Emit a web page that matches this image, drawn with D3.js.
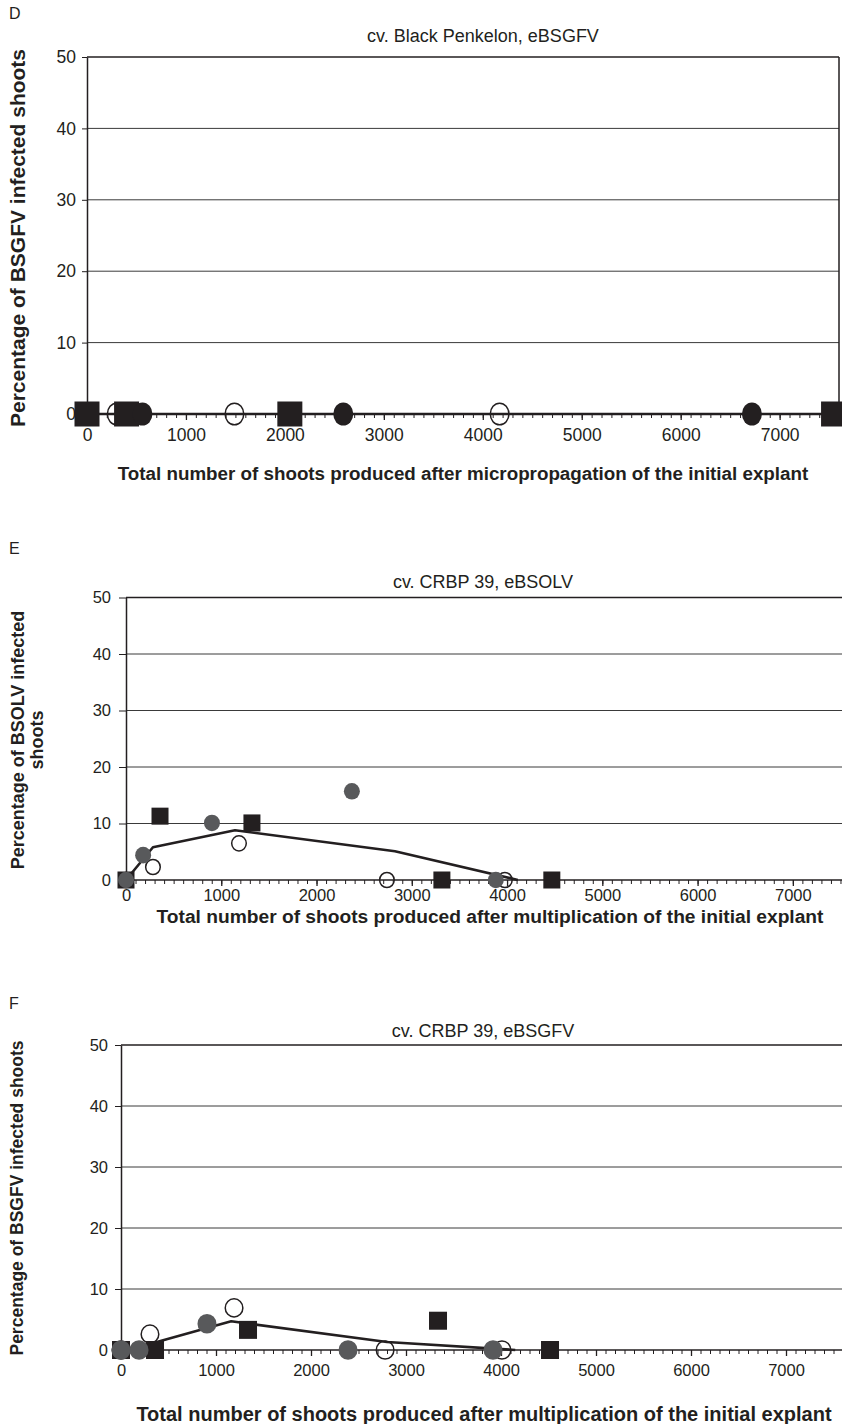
<!DOCTYPE html>
<html><head><meta charset="utf-8">
<script src="https://cdn.jsdelivr.net/npm/d3@7/dist/d3.min.js"></script>
<style>
body{margin:0;background:#fff}
svg{display:block}
text{font-family:"Liberation Sans",Arial,sans-serif;fill:#231f20}
</style>
</head><body>
<svg id="c" width="842" height="1424"></svg>
<script>
// ---------- data ----------
const yTicks = [0, 10, 20, 30, 40, 50];
const xMajorTicks = [0, 1000, 2000, 3000, 4000, 5000, 6000, 7000];
const xMinorTicks = d3.range(0, 7501, 100);

// Panel D: cv. Black Penkelon, eBSGFV
const dOpenX = [300, 1490, 4170];
const dOpenY = [0, 0, 0];
const dFilledX = [560, 2590, 6720];
const dFilledY = [0, 0, 0];
const dSquareX = [0, 400, 2050, 7545];
const dSquareY = [0, 0, 0, 0];
const dLineX = [0, 7545];
const dLineY = [0, 0];

// Panel E: cv. CRBP 39, eBSOLV
const eOpenX = [0, 283, 1186, 2739, 3977];
const eOpenY = [0, 2.3, 6.5, 0, 0];
const eFilledX = [0, 180, 902, 2371, 3882];
const eFilledY = [0, 4.4, 10.1, 15.7, 0];
const eSquareX = [0, 357, 1322, 3316, 4470];
const eSquareY = [0, 11.3, 10.1, 0, 0];
const eLineX = [0, 283, 1144, 2823, 4113];
const eLineY = [0, 5.8, 8.8, 5.1, 0];

// Panel F: cv. CRBP 39, eBSGFV
const fOpenX = [0, 305, 1190, 2780, 4010];
const fOpenY = [0, 2.6, 6.9, 0, 0];
const fFilledX = [0, 190, 905, 2390, 3916];
const fFilledY = [0, 0, 4.3, 0, 0];
const fSquareX = [0, 358, 1337, 3337, 4516];
const fSquareY = [0, 0, 3.3, 4.8, 0];
const fLineX = [0, 330, 1160, 2800, 4150];
const fLineY = [0, 1.1, 4.7, 1.3, 0];

const zip = (xs, ys) => xs.map((v, i) => ({x: v, y: ys[i]}));

// ---------- drawing ----------
const svg = d3.select('#c');
const INK = '#231f20', GRAY = '#58595b';
const FONT = '"Liberation Sans",Arial,sans-serif';

function panel(cfg) {
  const g = svg.append('g');
  const x = d3.scaleLinear().domain([0, cfg.xMax]).range([cfg.left, cfg.right]);
  const y = d3.scaleLinear().domain([0, 50]).range([cfg.bottom, cfg.top]);

  g.append('text').attr('x', 9).attr('y', cfg.letterY).attr('font-size', 16).text(cfg.letter);
  g.append('text').attr('x', cfg.titleX).attr('y', cfg.titleY).attr('text-anchor', 'middle')
    .attr('font-size', 18).text(cfg.title);

  g.selectAll('line.grid').data(yTicks.filter(v => v > 0 && v < 50)).join('line')
    .attr('x1', cfg.left).attr('x2', cfg.right)
    .attr('y1', d => y(d)).attr('y2', d => y(d))
    .attr('stroke', '#3a3a3a').attr('stroke-width', 1);

  g.append('line').attr('x1', cfg.left).attr('x2', cfg.right).attr('y1', y(50)).attr('y2', y(50))
    .attr('stroke', INK).attr('stroke-width', 1.5);
  g.append('line').attr('x1', cfg.right).attr('x2', cfg.right).attr('y1', y(50)).attr('y2', y(0))
    .attr('stroke', INK).attr('stroke-width', 1.5);

  const ya = g.append('g').attr('transform', `translate(${cfg.left},0)`)
    .call(d3.axisLeft(y).tickValues(yTicks).tickSize(cfg.yTick).tickPadding(cfg.yPad).tickSizeOuter(0));
  ya.select('.domain').attr('stroke', INK).attr('stroke-width', 1.5);
  ya.selectAll('.tick line').attr('stroke', INK);
  ya.selectAll('.tick text').attr('font-size', cfg.tickFont).attr('font-family', FONT).attr('fill', INK);

  const xa = g.append('g').attr('transform', `translate(0,${y(0)})`)
    .call(d3.axisBottom(x).tickValues(xMinorTicks).tickSize(4).tickFormat('').tickSizeOuter(0));
  xa.select('.domain').remove();
  xa.selectAll('.tick line').attr('stroke', INK).attr('stroke-width', 1);
  const xb = g.append('g').attr('transform', `translate(0,${y(0)})`)
    .call(d3.axisBottom(x).tickValues(xMajorTicks).tickSize(6).tickPadding(cfg.xPad)
      .tickFormat(d3.format('d')).tickSizeOuter(0));
  xb.select('.domain').remove();
  xb.selectAll('.tick line').attr('stroke', INK).attr('stroke-width', 1.3);
  xb.selectAll('.tick text').attr('font-size', cfg.tickFont).attr('font-family', FONT).attr('fill', INK);
  g.append('line').attr('x1', cfg.left).attr('x2', cfg.right).attr('y1', y(0)).attr('y2', y(0))
    .attr('stroke', INK).attr('stroke-width', 1.5);

  g.append('text').attr('x', cfg.xTitleX).attr('y', cfg.xTitleY).attr('text-anchor', 'middle')
    .attr('font-size', cfg.xTitleFont).attr('font-weight', 'bold').text(cfg.xTitle);
  cfg.yTitle.forEach((t, i) => {
    g.append('text').attr('transform', `translate(${cfg.yTitleX + i * cfg.yTitleLead},${cfg.yTitleY}) rotate(-90)`)
      .attr('text-anchor', 'middle').attr('font-size', cfg.yTitleFont).attr('font-weight', 'bold').text(t);
  });

  g.append('path').datum(zip(cfg.lineX, cfg.lineY))
    .attr('d', d3.line().x(d => x(d.x)).y(d => y(d.y)))
    .attr('fill', 'none').attr('stroke', INK).attr('stroke-width', 2.6).attr('stroke-linejoin', 'round');

  g.selectAll('ellipse.open').data(zip(cfg.openX, cfg.openY)).join('ellipse')
    .attr('cx', d => x(d.x)).attr('cy', d => y(d.y)).attr('rx', cfg.rx - 0.7).attr('ry', cfg.ry - 0.7)
    .attr('fill', 'none').attr('stroke', INK).attr('stroke-width', 1.5);
  g.selectAll('rect.sq').data(zip(cfg.squareX, cfg.squareY)).join('rect')
    .attr('x', d => x(d.x) - cfg.sq / 2).attr('y', d => y(d.y) - cfg.sq / 2)
    .attr('width', cfg.sq).attr('height', cfg.sq).attr('fill', INK);
  g.selectAll('ellipse.fill').data(zip(cfg.filledX, cfg.filledY)).join('ellipse')
    .attr('cx', d => x(d.x)).attr('cy', d => y(d.y)).attr('rx', cfg.rx).attr('ry', cfg.ry)
    .attr('fill', cfg.filledColor);
}

panel({
  letter: 'D', letterY: 19, title: 'cv. Black Penkelon, eBSGFV', titleX: 483, titleY: 42,
  left: 87, right: 839, top: 57, bottom: 414, xMax: 7600,
  yTick: 5, yPad: 6, xPad: 9, tickFont: 17.5,
  xTitle: 'Total number of shoots produced after micropropagation of the initial explant',
  xTitleX: 463, xTitleY: 480, xTitleFont: 18.8,
  yTitle: ['Percentage of BSGFV infected shoots'], yTitleX: 25, yTitleY: 238, yTitleLead: 18, yTitleFont: 21,
  openX: dOpenX, openY: dOpenY, filledX: dFilledX, filledY: dFilledY,
  squareX: dSquareX, squareY: dSquareY, lineX: dLineX, lineY: dLineY,
  rx: 10, ry: 11.5, sq: 25, filledColor: INK
});

panel({
  letter: 'E', letterY: 554, title: 'cv. CRBP 39, eBSOLV', titleX: 483, titleY: 588,
  left: 126, right: 850, top: 597.5, bottom: 880, xMax: 7600,
  yTick: 7, yPad: 8, xPad: 3, tickFont: 16.5,
  xTitle: 'Total number of shoots produced after multiplication of the initial explant',
  xTitleX: 490, xTitleY: 923, xTitleFont: 19.2,
  yTitle: ['Percentage of BSOLV infected', 'shoots'], yTitleX: 24, yTitleY: 740, yTitleLead: 19, yTitleFont: 18,
  openX: eOpenX, openY: eOpenY, filledX: eFilledX, filledY: eFilledY,
  squareX: eSquareX, squareY: eSquareY, lineX: eLineX, lineY: eLineY,
  rx: 8, ry: 8.3, sq: 17, filledColor: GRAY
});

panel({
  letter: 'F', letterY: 1009, title: 'cv. CRBP 39, eBSGFV', titleX: 483, titleY: 1037,
  left: 121, right: 843, top: 1045, bottom: 1350, xMax: 7600,
  yTick: 6, yPad: 7, xPad: 8, tickFont: 16.5,
  xTitle: 'Total number of shoots produced after multiplication of the initial explant',
  xTitleX: 484, xTitleY: 1421, xTitleFont: 20,
  yTitle: ['Percentage of BSGFV infected shoots'], yTitleX: 23, yTitleY: 1198, yTitleLead: 18, yTitleFont: 17.5,
  openX: fOpenX, openY: fOpenY, filledX: fFilledX, filledY: fFilledY,
  squareX: fSquareX, squareY: fSquareY, lineX: fLineX, lineY: fLineY,
  rx: 9.5, ry: 9.8, sq: 18, filledColor: GRAY
});
</script>
</body></html>
